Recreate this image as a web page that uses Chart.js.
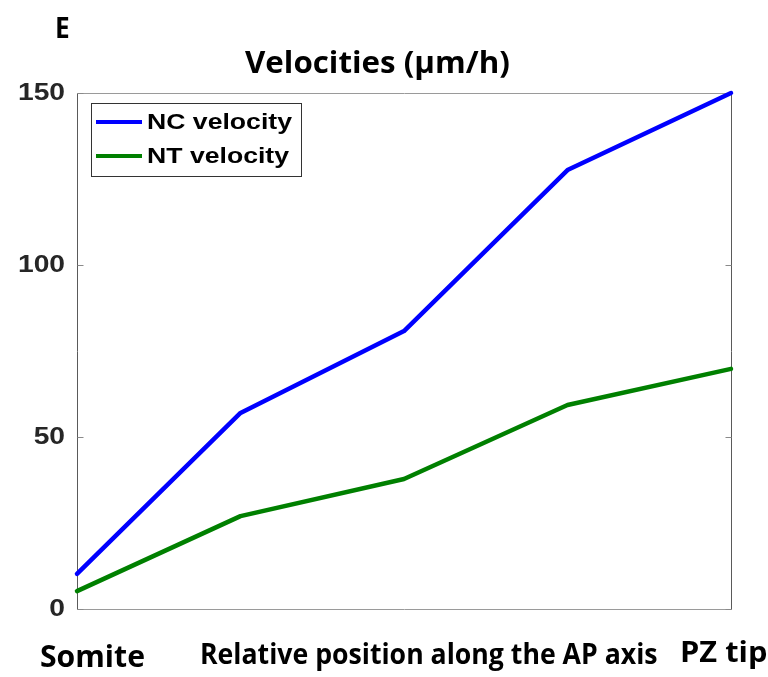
<!DOCTYPE html>
<html>
<head>
<meta charset="utf-8">
<script src="https://cdn.jsdelivr.net/npm/chart.js@4.4.1/dist/chart.umd.min.js"></script>
<style>
  html, body { margin: 0; padding: 0; background: #fff; }
  #wrap { position: relative; width: 768px; height: 677px; overflow: hidden; }
  #wrap canvas { position: absolute; left: 0; top: 0; }
  .lbl {
    position: absolute;
    font-family: 'Open Sans', Lato, sans-serif;
    font-weight: 700;
    line-height: 1.2;
    color: #000;
    white-space: nowrap;
    transform-origin: 0 0;
  }
  .base { display: inline-block; width: 0; height: 0; vertical-align: baseline; }
</style>
</head>
<body>
<div id="wrap">
  <canvas id="velChart" width="768" height="677"></canvas>
  <div class="lbl" id="panelLbl"></div>
  <div class="lbl" id="titleLbl"></div>
  <div class="lbl" id="startLbl"></div>
  <div class="lbl" id="axisLbl"></div>
  <div class="lbl" id="endLbl"></div>
</div>

<script>
// ---- data ----
const relPos = [0, 0.25, 0.5, 0.75, 1];            // position along the AP axis
const ncVelocity = [10.2, 57.0, 80.8, 127.6, 150];
const ntVelocity = [5.2, 27.0, 37.8, 59.3, 69.8];
const seriesNames = ['NC velocity', 'NT velocity'];
const yTicks = [0, 50, 100, 150];

const panelText = 'E';
const titleText = 'Velocities (µm/h)';
const startText = 'Somite';
const axisText = 'Relative position along the AP axis';
const endText = 'PZ tip';

const BLUE = '#0000ff';
const GREEN = '#008000';
const AXIS_FONT = "bold 23.5px 'Liberation Sans', Arial, Helvetica, sans-serif";
const LEGEND_FONT = "bold 21.5px 'Liberation Sans', Arial, Helvetica, sans-serif";

// box, inward ticks, tick labels and the legend, MATLAB style
const matlabAxes = {
  id: 'matlabAxes',
  beforeDatasetsDraw(chart) {
    const { ctx, chartArea: a, scales: { y } } = chart;
    const l = Math.round(a.left) + 0.5, r = Math.round(a.right) + 0.5;
    const t = Math.round(a.top) + 0.5, b = Math.round(a.bottom) + 0.5;
    ctx.save();
    ctx.lineWidth = 1;
    ctx.strokeStyle = '#9a9a9a';
    ctx.beginPath();
    ctx.moveTo(l, t); ctx.lineTo(r, t);
    ctx.moveTo(l, b); ctx.lineTo(r, b);
    ctx.stroke();
    ctx.strokeStyle = '#5a5a5a';
    ctx.beginPath();
    ctx.moveTo(l, t); ctx.lineTo(l, b);
    ctx.moveTo(r, t); ctx.lineTo(r, b);
    ctx.stroke();
    ctx.strokeStyle = '#8a8a8a';
    ctx.beginPath();
    yTicks.forEach(v => {
      const py = Math.round(y.getPixelForValue(v)) + 0.5;
      ctx.moveTo(l, py); ctx.lineTo(l + 6, py);
      ctx.moveTo(r, py); ctx.lineTo(r - 6, py);
    });
    ctx.stroke();
    ctx.restore();
  },
  afterDraw(chart) {
    const { ctx, chartArea: a, scales: { y } } = chart;
    ctx.save();
    // y tick labels (figure is stretched horizontally a little)
    ctx.font = AXIS_FONT;
    ctx.fillStyle = '#262626';
    ctx.textAlign = 'right';
    ctx.textBaseline = 'middle';
    yTicks.forEach(v => {
      ctx.save();
      ctx.translate(a.left - 12, y.getPixelForValue(v) + 1);
      ctx.scale(1.2, 1);
      ctx.fillText(String(v), 0, 0);
      ctx.restore();
    });

    // legend
    const bx = 91.5, by = 103.5, bw = 210, bh = 73;
    ctx.fillStyle = '#fff';
    ctx.fillRect(bx, by, bw, bh);
    ctx.strokeStyle = '#333';
    ctx.lineWidth = 1;
    ctx.strokeRect(bx, by, bw, bh);
    ctx.font = LEGEND_FONT;
    ctx.textAlign = 'left';
    ctx.textBaseline = 'alphabetic';
    const sx = 145 / ctx.measureText(chart.data.datasets[0].label).width;
    chart.data.datasets.forEach((ds, i) => {
      const rowY = 122 + i * 34;
      ctx.strokeStyle = ds.borderColor;
      ctx.lineWidth = 4;
      ctx.beginPath();
      ctx.moveTo(96, rowY); ctx.lineTo(142, rowY);
      ctx.stroke();
      ctx.save();
      ctx.translate(147, rowY + 6.5);
      ctx.scale(sx, 1);
      ctx.fillStyle = '#000';
      ctx.fillText(ds.label, 0, 0);
      ctx.restore();
    });
    ctx.restore();
  }
};

new Chart(document.getElementById('velChart'), {
  type: 'line',
  data: {
    datasets: [
      { label: seriesNames[0], data: relPos.map((x, i) => ({ x, y: ncVelocity[i] })), borderColor: BLUE },
      { label: seriesNames[1], data: relPos.map((x, i) => ({ x, y: ntVelocity[i] })), borderColor: GREEN }
    ]
  },
  options: {
    responsive: false,
    animation: false,
    devicePixelRatio: 1,
    layout: { padding: { left: 77, top: 93, right: 37, bottom: 68 } },
    elements: {
      line: { borderWidth: 4.5, tension: 0, fill: false, borderJoinStyle: 'round', borderCapStyle: 'round' },
      point: { radius: 0, hoverRadius: 0 }
    },
    datasets: { line: { clip: false } },
    plugins: { legend: { display: false }, title: { display: false }, tooltip: { enabled: false } },
    scales: {
      x: { type: 'linear', min: 0, max: 1, display: false },
      y: { min: 0, max: 150, display: false }
    }
  },
  plugins: [matlabAxes]
});

// headings: Calibri in the original, placed by baseline and stretched to width
function place(id, text, left, baseline, size, width) {
  const el = document.getElementById(id);
  el.textContent = text;
  const mark = document.createElement('span');
  mark.className = 'base';
  el.appendChild(mark);
  el.style.fontSize = size + 'px';
  el.style.transform = 'none';
  el.style.left = left + 'px';
  el.style.top = '0px';
  el.style.top = (baseline - mark.offsetTop) + 'px';
  const w = el.offsetWidth;
  el.style.transform = `scaleX(${width / w})`;
}
function layoutText() {
  place('panelLbl', panelText, 55, 38, 28, 15);
  place('titleLbl', titleText, 245, 73, 30, 265);
  place('startLbl', startText, 40, 667, 31, 105);
  place('axisLbl', axisText, 200, 664, 28, 458);
  place('endLbl', endText, 680, 662, 29, 87);
}
layoutText();
if (document.fonts && document.fonts.ready) document.fonts.ready.then(layoutText);
</script>
</body>
</html>
